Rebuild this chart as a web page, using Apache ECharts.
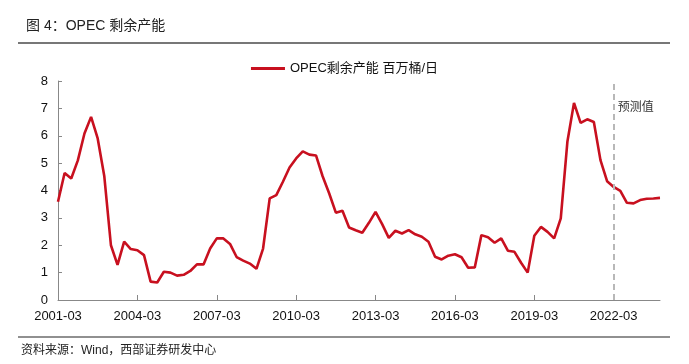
<!DOCTYPE html>
<html>
<head>
<meta charset="utf-8">
<script src="https://cdn.jsdelivr.net/npm/echarts@6/dist/echarts.min.js"></script>
<style>
  html, body { margin: 0; padding: 0; background: #fff; }
  #main { width: 689px; height: 364px; }
</style>
</head>
<body>
<div id="main"></div>
<script>
// quarterly, 2001-03 .. 2023-12
const quarters = [];
for (let y = 2001; y <= 2023; y++) {
  ['03', '06', '09', '12'].forEach(m => quarters.push(y + '-' + m));
}
const spareCapacity = [
  3.59, 4.64, 4.44, 5.1, 6.08, 6.69, 5.9, 4.52, 2.0, 1.28,
  2.13, 1.86, 1.82, 1.64, 0.67, 0.64, 1.03, 1.0, 0.89, 0.92,
  1.06, 1.3, 1.3, 1.88, 2.25, 2.25, 2.05, 1.57, 1.44, 1.33,
  1.14, 1.88, 3.71, 3.83, 4.32, 4.84, 5.17, 5.43, 5.31, 5.28,
  4.52, 3.89, 3.19, 3.26, 2.65, 2.55, 2.46, 2.82, 3.22, 2.77,
  2.27, 2.53, 2.43, 2.55, 2.4, 2.31, 2.13, 1.58, 1.48, 1.62,
  1.67, 1.56, 1.18, 1.19, 2.37, 2.29, 2.09, 2.25, 1.8, 1.76,
  1.36, 1.0, 2.35, 2.67, 2.49, 2.25, 2.98, 5.78, 7.2, 6.47,
  6.6, 6.5, 5.11, 4.34, 4.13, 3.99, 3.55, 3.53, 3.65, 3.7,
  3.71, 3.73
];
const forecastStart = '2022-03';
const seriesName = 'OPEC剩余产能 百万桶/日';

const FONT = "'Liberation Sans', 'Noto Sans CJK SC', sans-serif";
const myChart = echarts.init(document.getElementById('main'));

const option = {
  backgroundColor: '#fff',
  animation: false,
  textStyle: { fontFamily: FONT },
  title: {
    text: '图 4：OPEC 剩余产能',
    left: 21, top: 14,
    textStyle: { fontSize: 14, fontWeight: 'normal', color: '#222', fontFamily: FONT }
  },
  legend: {
    top: 57, left: 'center',
    itemWidth: 34, itemHeight: 3,
    icon: 'rect',
    textStyle: { fontSize: 13, color: '#111', fontFamily: FONT },
    data: [seriesName]
  },
  grid: { left: 58, right: 29, top: 81, bottom: 64 },
  xAxis: {
    type: 'category',
    boundaryGap: false,
    data: quarters,
    axisLine: { lineStyle: { color: '#888', width: 1 } },
    axisTick: { inside: true, interval: 11, length: 5, lineStyle: { color: '#888' } },
    axisLabel: { interval: 11, color: '#111', fontSize: 13, margin: 10 }
  },
  yAxis: {
    type: 'value',
    min: 0, max: 8, interval: 1,
    splitLine: { show: false },
    axisLine: { show: true, lineStyle: { color: '#888' } },
    axisTick: { show: true, inside: true, length: 4, lineStyle: { color: '#888' } },
    axisLabel: { color: '#111', fontSize: 13, margin: 10 }
  },
  series: [{
    name: seriesName,
    type: 'line',
    data: spareCapacity,
    symbol: 'none',
    lineStyle: { color: '#c8101f', width: 2.6 },
    itemStyle: { color: '#c8101f' },
    markLine: {
      silent: true,
      symbol: 'none',
      label: { show: false },
      lineStyle: { color: '#b8b8b8', type: [6, 4], width: 2 },
      data: [{ xAxis: forecastStart }]
    }
  }]
};

myChart.setOption(option);

// frame lines, source note, and label next to the forecast line
const p = myChart.convertToPixel({ seriesIndex: 0 }, [forecastStart, 7.0]);
myChart.setOption({
  graphic: [
    { type: 'line', shape: { x1: 18, y1: 43, x2: 670, y2: 43 }, style: { stroke: '#777', lineWidth: 2 } },
    { type: 'line', shape: { x1: 18, y1: 337, x2: 670, y2: 337 }, style: { stroke: '#222', lineWidth: 1.2 } },
    { type: 'text', left: 21, top: 345,
      style: { text: '资料来源：Wind，西部证券研发中心', fill: '#222', font: '12px ' + FONT } },
    { type: 'text', x: p[0] + 4, y: p[1] - 7,
      style: { text: '预测值', fill: '#333', font: '12px ' + FONT } }
  ]
});
</script>
</body>
</html>
